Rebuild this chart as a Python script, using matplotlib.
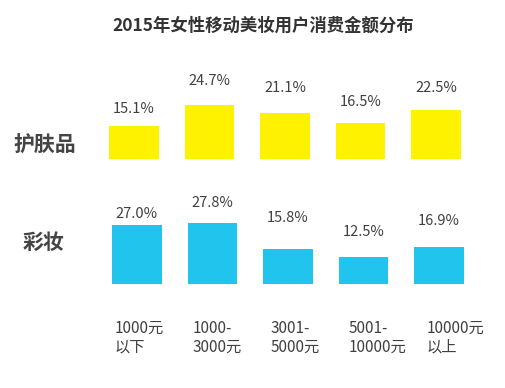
import matplotlib
matplotlib.use("Agg")
import matplotlib.pyplot as plt

plt.rcParams['font.family'] = ['Noto Sans CJK SC', 'DejaVu Sans']

# data
categories = ["1000元\n以下", "1000-\n3000元", "3001-\n5000元", "5001-\n10000元", "10000元\n以上"]
skincare = [15.1, 24.7, 21.1, 16.5, 22.5]
makeup = [27.0, 27.8, 15.8, 12.5, 16.9]
row_labels = ["护肤品", "彩妆"]
title = "2015年女性移动美妆用户消费金额分布"

# styling
yellow = "#FFF200"
blue = "#20C4EC"
text_col = "#404040"
px_per_pct = 2.19                     # bar height scale in pixels per percent
label_gap_top = [17, 24, 25, 21, 22]  # label offset above bar (px)
label_gap_bot = [11, 20, 31, 25, 26]

W, H = 506, 388
fig = plt.figure(figsize=(W / 100, H / 100), dpi=100)
fig.patch.set_facecolor("white")


def row(left_px, base_px, height_px, values, color, gaps):
    ax = fig.add_axes([left_px / W, base_px / H, 377.5 / W, height_px / H])
    x = range(len(values))
    ax.bar(x, values, width=0.662, color=color)
    ax.set_xlim(-0.5, len(values) - 0.5)
    ax.set_ylim(0, height_px / px_per_pct)
    for i, v in enumerate(values):
        ax.annotate(f"{v:.1f}%", (i, v), xytext=(0, gaps[i] * 0.72),
                    textcoords="offset points", ha="center", va="center",
                    fontsize=10.5, color=text_col, fontweight="light")
    ax.axis("off")
    return ax


row(96.25, H - 159, 100, skincare, yellow, label_gap_top)
row(99.25, H - 284, 100, makeup, blue, label_gap_bot)

fig.text(0.52, 1 - 26 / H, title, ha="center", va="center",
         fontsize=12.5, fontweight="bold", color="#333333")

fig.text(13 / W, 1 - 145 / H, row_labels[0], ha="left", va="center",
         fontsize=15, fontweight="bold", color="#444444")
fig.text(23 / W, 1 - 242 / H, row_labels[1], ha="left", va="center",
         fontsize=15, fontweight="bold", color="#444444")

for i, c in enumerate(categories):
    fig.text((115 + i * 78) / W, 1 - 320 / H, c, ha="left", va="top",
             fontsize=11, color=text_col, linespacing=1.15, fontweight="light")

fig.savefig("out.png", dpi=100)
